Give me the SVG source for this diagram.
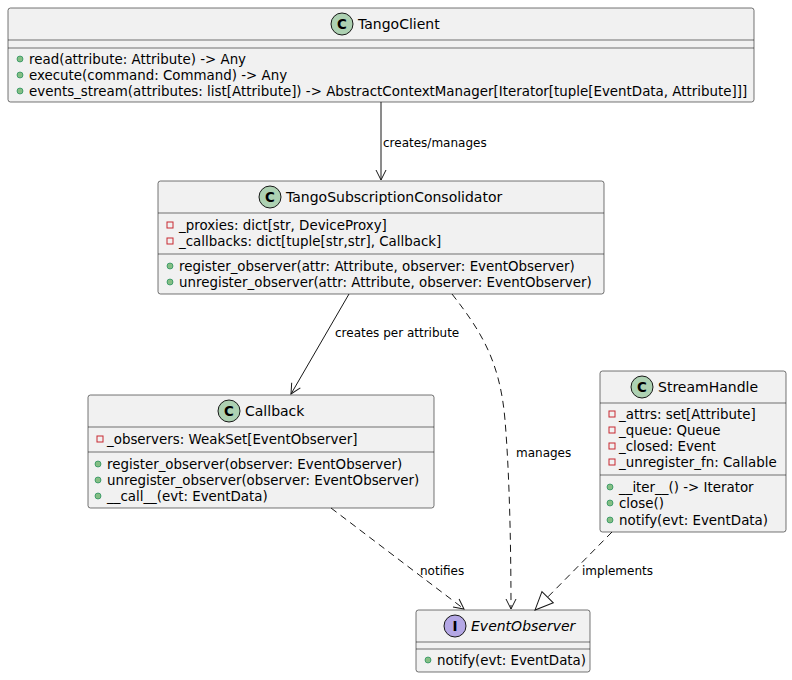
<svg xmlns="http://www.w3.org/2000/svg" width="792" height="680" viewBox="0 0 792 680">
<style>
.box{fill:#f1f1f1;stroke:#181818;stroke-width:0.6}
.sep{stroke:#181818;stroke-width:0.6}
text{font-family:"DejaVu Sans",sans-serif;font-size:13.4px;fill:#000}
.t{font-size:14px}
.ci{fill:#add1b2;stroke:#181818;stroke-width:1}
.ii{fill:#b4a7e5;stroke:#181818;stroke-width:1}
.pub{fill:#84be84;stroke:#038048;stroke-width:0.6}
.prv{fill:none;stroke:#c82930;stroke-width:1}
.e{stroke:#181818;stroke-width:1;fill:none}
.d{stroke-dasharray:7,5}
.lt{font-size:12px}
</style>
<defs>
<marker id="a" viewBox="0 0 12 12" refX="11" refY="6" markerWidth="12" markerHeight="12" orient="auto" markerUnits="userSpaceOnUse"><path d="M1,1 L11,6 L1,11" fill="none" stroke="#181818" stroke-width="1"/></marker>
<marker id="tri" viewBox="0 0 20 20" refX="19" refY="10" markerWidth="20" markerHeight="20" orient="auto" markerUnits="userSpaceOnUse"><path d="M1,2 L19,10 L1,18 Z" fill="#fff" stroke="#181818" stroke-width="1"/></marker>
</defs>
<g id="TangoClient">
<rect class="box" x="8" y="8" width="746" height="94" rx="2.5"/>
<circle class="ci" cx="342" cy="24" r="11"/><text x="342" y="29" text-anchor="middle" style="font-weight:bold">C</text>
<text class="t" x="358" y="29">TangoClient</text>
<line class="sep" x1="8" y1="40" x2="754" y2="40"/><line class="sep" x1="8" y1="48" x2="754" y2="48"/>
<circle class="pub" cx="20" cy="59" r="3"/><text x="29" y="64">read(attribute: Attribute) -&gt; Any</text>
<circle class="pub" cx="20" cy="75" r="3"/><text x="29" y="80">execute(command: Command) -&gt; Any</text>
<circle class="pub" cx="20" cy="91" r="3"/><text x="29" y="96">events_stream(attributes: list[Attribute]) -&gt; AbstractContextManager[Iterator[tuple[EventData, Attribute]]]</text>
</g>
<g id="TangoSubscriptionConsolidator">
<rect class="box" x="158" y="181" width="446" height="113" rx="2.5"/>
<circle class="ci" cx="270" cy="197" r="11"/><text x="270" y="202" text-anchor="middle" style="font-weight:bold">C</text>
<text class="t" x="286" y="202">TangoSubscriptionConsolidator</text>
<line class="sep" x1="158" y1="213" x2="604" y2="213"/>
<rect class="prv" x="167" y="222" width="6" height="6"/><text x="179" y="230">_proxies: dict[str, DeviceProxy]</text>
<rect class="prv" x="167" y="238" width="6" height="6"/><text x="179" y="246">_callbacks: dict[tuple[str,str], Callback]</text>
<line class="sep" x1="158" y1="254" x2="604" y2="254"/>
<circle class="pub" cx="170" cy="266" r="3"/><text x="179" y="271">register_observer(attr: Attribute, observer: EventObserver)</text>
<circle class="pub" cx="170" cy="282" r="3"/><text x="179" y="287">unregister_observer(attr: Attribute, observer: EventObserver)</text>
</g>
<g id="Callback">
<rect class="box" x="88" y="395" width="346" height="113" rx="2.5"/>
<circle class="ci" cx="229" cy="411" r="11"/><text x="229" y="416" text-anchor="middle" style="font-weight:bold">C</text>
<text class="t" x="245" y="416">Callback</text>
<line class="sep" x1="88" y1="427" x2="434" y2="427"/>
<rect class="prv" x="97" y="436" width="6" height="6"/><text x="107" y="444">_observers: WeakSet[EventObserver]</text>
<line class="sep" x1="88" y1="452" x2="434" y2="452"/>
<circle class="pub" cx="98" cy="464" r="3"/><text x="107" y="469">register_observer(observer: EventObserver)</text>
<circle class="pub" cx="98" cy="480" r="3"/><text x="107" y="485">unregister_observer(observer: EventObserver)</text>
<circle class="pub" cx="98" cy="496" r="3"/><text x="107" y="501">__call__(evt: EventData)</text>
</g>
<g id="StreamHandle">
<rect class="box" x="600" y="371" width="186" height="161" rx="2.5"/>
<circle class="ci" cx="642" cy="387" r="11"/><text x="642" y="392" text-anchor="middle" style="font-weight:bold">C</text>
<text class="t" x="658" y="392">StreamHandle</text>
<line class="sep" x1="600" y1="403" x2="786" y2="403"/>
<rect class="prv" x="609" y="411" width="6" height="6"/><text x="619" y="419">_attrs: set[Attribute]</text>
<rect class="prv" x="609" y="427" width="6" height="6"/><text x="619" y="435">_queue: Queue</text>
<rect class="prv" x="609" y="443" width="6" height="6"/><text x="619" y="451">_closed: Event</text>
<rect class="prv" x="609" y="459" width="6" height="6"/><text x="619" y="467">_unregister_fn: Callable</text>
<line class="sep" x1="600" y1="475" x2="786" y2="475"/>
<circle class="pub" cx="610" cy="487" r="3"/><text x="619" y="492">__iter__() -&gt; Iterator</text>
<circle class="pub" cx="610" cy="503" r="3"/><text x="619" y="508">close()</text>
<circle class="pub" cx="610" cy="520" r="3"/><text x="619" y="525">notify(evt: EventData)</text>
</g>
<g id="EventObserver">
<rect class="box" x="416" y="610" width="174" height="62" rx="2.5"/>
<circle class="ii" cx="455" cy="626" r="11"/><text x="455" y="631" text-anchor="middle" style="font-weight:bold">I</text>
<text class="t" x="471" y="631" font-style="italic">EventObserver</text>
<line class="sep" x1="416" y1="642" x2="590" y2="642"/><line class="sep" x1="416" y1="649" x2="590" y2="649"/>
<circle class="pub" cx="428" cy="660" r="3"/><text x="437" y="665">notify(evt: EventData)</text>
</g>
<g id="connectors">
<path class="e" d="M381,102 L381,180" marker-end="url(#a)"/>
<text class="lt" x="383" y="147">creates/manages</text>
<path class="e" d="M349,294 L291,394" marker-end="url(#a)"/>
<text class="lt" x="335" y="337">creates per attribute</text>
<path class="e d" d="M452,294 C480,330 500,360 505,420 C510,480 511,560 511,609" marker-end="url(#a)"/>
<text class="lt" x="516" y="457">manages</text>
<path class="e d" d="M331,508 L464,609" marker-end="url(#a)"/>
<text class="lt" x="420" y="575">notifies</text>
<path class="e d" d="M612,532 L535,610" marker-end="url(#tri)"/>
<text class="lt" x="582" y="575">implements</text>
</g>
</svg>
